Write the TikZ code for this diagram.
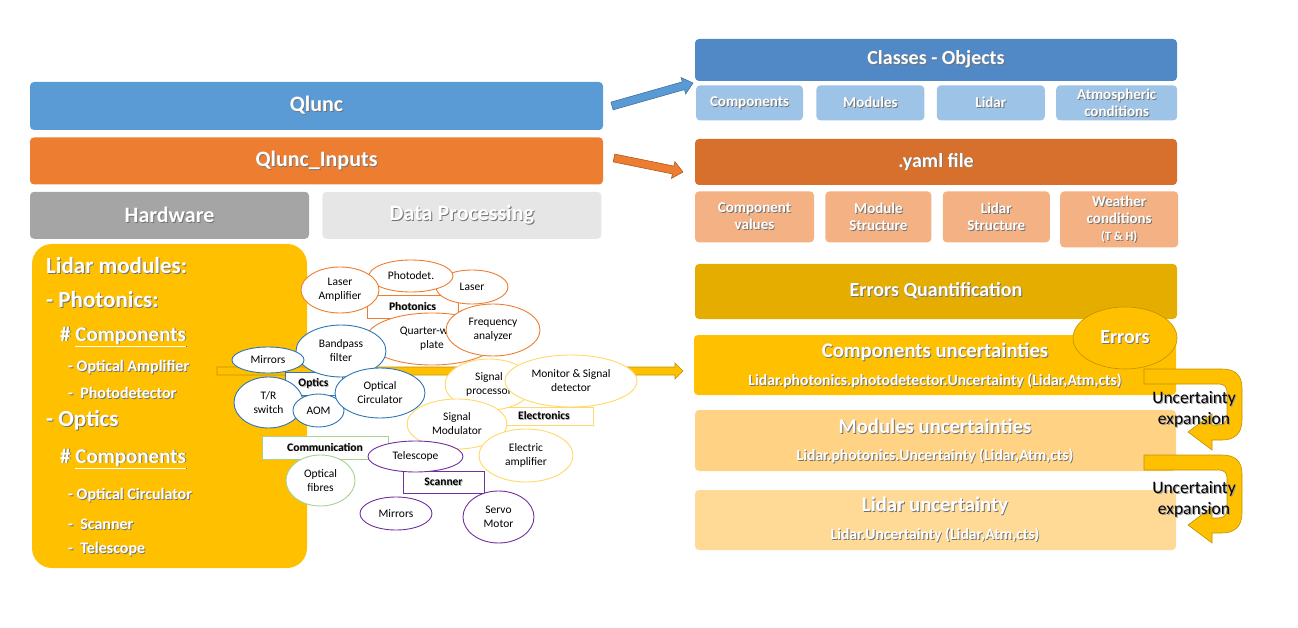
\documentclass[tikz,border=0pt]{standalone}
\usepackage{fontspec}
\setmainfont{Carlito}
\usepackage{tikz}
\usetikzlibrary{positioning,
                calc,                       % points aside a line
                shapes.geometric}           % ellipse nodes

\definecolor{qblue}{HTML}{5B9BD5}
\definecolor{qbluedk}{HTML}{41719C}
\definecolor{qorange}{HTML}{ED7D31}
\definecolor{qorangedk}{HTML}{AE5A21}
\definecolor{hwgrey}{HTML}{A5A5A5}
\definecolor{dpgrey}{HTML}{E7E6E6}
\definecolor{ygold}{HTML}{FFC000}
\definecolor{ydark}{HTML}{BF9000}
\definecolor{cblue}{HTML}{5089C6}
\definecolor{lblue}{HTML}{9DC3E6}
\definecolor{yamlor}{HTML}{D6702C}
\definecolor{lorange}{HTML}{F4B183}
\definecolor{errgold}{HTML}{E5AD00}
\definecolor{modyel}{HTML}{FFD383}
\definecolor{lidyel}{HTML}{FFDA96}
\definecolor{photc}{HTML}{ED7D31}
\definecolor{optc}{HTML}{2E75B6}
\definecolor{elecc}{HTML}{FFD966}
\definecolor{commc}{HTML}{A9D18E}
\definecolor{scanc}{HTML}{7030A0}

% text with a drop shadow
\newcommand{\sh}[1]{\rlap{\hspace*{0.9pt}\raisebox{-0.9pt}{\color{black!55}#1}}#1}
\newcommand{\shg}[1]{\rlap{\hspace*{0.8pt}\raisebox{-0.8pt}{\color{black!30}#1}}#1}
\newcommand{\shk}[1]{\rlap{\hspace*{1.1pt}\raisebox{-1.1pt}{\color{black!40}#1}}#1}

% block arrow: style, from, to, half shaft, half head, head length
\newcommand{\blockarrow}[6]{%
  \path ($(#3)!#6!(#2)$) coordinate (hb);
  \filldraw[#1] ($(#2)!#4!90:(#3)$) -- ($(hb)!#4!-90:(#2)$) -- ($(hb)!#5!-90:(#2)$)
    -- (#3) -- ($(hb)!#5!90:(#2)$) -- ($(hb)!#4!90:(#2)$) -- ($(#2)!#4!-90:(#3)$) -- cycle;}

\tikzset{
  bar/.style={rounded corners=4pt, text=white, inner sep=0pt,
              font=\bfseries\fontsize{22}{26}\selectfont},
  subbox/.style={rounded corners=4pt, text=white, inner sep=0pt, align=center,
              font=\bfseries\fontsize{15}{17}\selectfont},
  lmbig/.style={text=white, anchor=west, inner sep=0pt, font=\bfseries\fontsize{23}{26}\selectfont},
  lmmid/.style={text=white, anchor=west, inner sep=0pt, font=\bfseries\fontsize{21}{24}\selectfont},
  lmsmall/.style={text=white, anchor=west, inner sep=0pt, font=\bfseries\fontsize{16}{18}\selectfont},
  part/.style={ellipse, draw, fill=white, inner sep=0pt, align=center, line width=0.9pt,
              font=\fontsize{11.5}{14}\selectfont},
  grp/.style={draw, fill=white, inner sep=0pt, line width=0.9pt,
              font=\bfseries\fontsize{11.5}{13}\selectfont},
  ttl/.style={text=white, inner sep=0pt, font=\bfseries\fontsize{20.7}{24}\selectfont},
  frm/.style={text=white, inner sep=0pt, font=\bfseries\fontsize{15.6}{18}\selectfont},
  uexp/.style={align=center, inner sep=0pt, font=\fontsize{17.5}{21}\selectfont},
  uarrow/.style={fill=ygold, draw=ydark, line width=0.6pt},
}

\begin{document}
\begin{tikzpicture}[x=1pt, y=-1pt]
  \useasboundingbox (0,0) rectangle (1298,628);

  % left column
  \node[bar, fill=qblue, minimum width=573pt, minimum height=48pt] (qlunc) at (316.5,106) {\sh{Qlunc}};
  \node[bar, fill=qorange, minimum width=573pt, minimum height=47pt, below=7pt of qlunc] (inputs) {\sh{Qlunc\_Inputs}};
  \node[bar, fill=hwgrey, minimum width=279pt, minimum height=47pt, below right=7pt and 0pt of inputs.south west] (hardware) {\sh{Hardware}};
  \node[bar, fill=dpgrey, minimum width=279pt, minimum height=47pt, right=13pt of hardware] (dataproc) {\sh{Data Processing}};

  \node[fill=ygold, rounded corners=20pt, minimum width=275pt, minimum height=324pt, inner sep=0pt] (lidmod) at (169.5,406) {};
  \node[lmbig] (lm1) at (46,266) {\sh{Lidar modules:}};
  \node[lmbig] (lm2) at (46,300) {\sh{- Photonics:}};
  \node[lmmid] (lm3) at (60,337) {\sh{\# \underline{Components}}};
  \node[lmsmall] (lm4) at (68,368) {\sh{- Optical Amplifier}};
  \node[lmsmall] (lm5) at (68,393) {\sh{-\ \ Photodetector}};
  \node[lmbig] (lm6) at (46,421) {\sh{- Optics}};
  \node[lmmid] (lm7) at (60,459) {\sh{\# \underline{Components}}};
  \node[lmsmall] (lm8) at (68,496) {\sh{- Optical Circulator}};
  \node[lmsmall] (lm9) at (68,525) {\sh{-\ \ Scanner}};
  \node[lmsmall] (lm10) at (68,550) {\sh{-\ \ Telescope}};

  % right column
  \node[bar, fill=cblue, font=\bfseries\fontsize{20}{24}\selectfont, minimum width=482pt, minimum height=42pt] (classes) at (936,60) {\sh{Classes - Objects}};
  \node[subbox, fill=lblue, minimum width=107pt, minimum height=35pt, below right=4pt and 1pt of classes.south west] (ccomp) {\sh{Components}};
  \node[subbox, fill=lblue, minimum width=108pt, minimum height=35pt, right=13pt of ccomp] (cmod) {\sh{Modules}};
  \node[subbox, fill=lblue, minimum width=108pt, minimum height=35pt, right=12pt of cmod] (clid) {\sh{Lidar}};
  \node[subbox, fill=lblue, minimum width=121pt, minimum height=35pt, right=11pt of clid] (catm) {\sh{Atmospheric}\\\sh{conditions}};

  \node[bar, fill=yamlor, font=\bfseries\fontsize{20}{24}\selectfont, minimum width=482pt, minimum height=46pt] (yaml) at (936,162) {\sh{.yaml file}};
  \node[subbox, fill=lorange, minimum width=119pt, minimum height=51pt, below right=6pt and 0pt of yaml.south west] (ycomp) {\sh{Component}\\\sh{values}};
  \node[subbox, fill=lorange, minimum width=106pt, minimum height=51pt, right=11pt of ycomp] (ymod) {\sh{Module}\\\sh{Structure}};
  \node[subbox, fill=lorange, minimum width=107pt, minimum height=51pt, right=11pt of ymod] (ylid) {\sh{Lidar}\\\sh{Structure}};
  \node[subbox, fill=lorange, minimum width=118pt, minimum height=56pt, anchor=north west] (yweather) at ([xshift=10pt]ylid.north east)
    {\sh{Weather}\\\sh{conditions}\\{\fontsize{12.5}{14}\selectfont\sh{(T \& H)}}};

  \node[bar, fill=errgold, font=\bfseries\fontsize{20}{24}\selectfont, minimum width=482pt, minimum height=55pt] (errq) at (936,291.5) {\sh{Errors Quantification}};

  \node[fill=ygold, rounded corners=4pt, minimum width=482pt, minimum height=60pt, inner sep=0pt] (compu) at (935,365) {};
  \node[ttl] (compuT) at (935,352) {\sh{Components uncertainties}};
  \node[frm] (compuF) at (935,381) {\sh{Lidar.photonics.photodetector.Uncertainty (Lidar,Atm,cts)}};
  \node[fill=modyel, rounded corners=4pt, minimum width=481pt, minimum height=61pt, inner sep=0pt] (modu) at (935.5,440.5) {};
  \node[ttl] (moduT) at (935,427) {\sh{Modules uncertainties}};
  \node[frm] (moduF) at (935,456) {\sh{Lidar.photonics.Uncertainty (Lidar,Atm,cts)}};
  \node[fill=lidyel, rounded corners=4pt, minimum width=481pt, minimum height=60pt, inner sep=0pt] (lidu) at (935.5,520) {};
  \node[ttl] (liduT) at (935,506) {\sh{Lidar uncertainty}};
  \node[frm] (liduF) at (935,535) {\sh{Lidar.Uncertainty (Lidar,Atm,cts)}};

  \node[ellipse, fill=ygold, draw=ydark, line width=0.6pt, minimum width=104pt, minimum height=62pt, inner sep=0pt,
        text=white, font=\bfseries\fontsize{20}{24}\selectfont] (errors) at (1125,338) {\sh{Errors}};

  % uncertainty expansion u-turns
  \foreach \ty/\hy in {369/432, 455/525}{
    \filldraw[uarrow] (1144,\ty) -- (1222,\ty) .. controls (1236,\ty) and (1242,\ty+7) .. (1242,\ty+19)
      -- (1242,\hy-12) .. controls (1242,\hy+2) and (1234,\hy+8) .. (1222,\hy+8) -- (1212,\hy+8)
      -- (1212,\hy+18) -- (1188,\hy) -- (1212,\hy-18) -- (1212,\hy-7) -- (1218,\hy-7)
      .. controls (1224,\hy-7) and (1227,\hy-10) .. (1227,\hy-16) -- (1227,\ty+23)
      .. controls (1227,\ty+18) and (1224,\ty+15) .. (1219,\ty+15) -- (1144,\ty+15) -- cycle;
  }
  \node[uexp] (uexp1) at (1194,410) {\shk{Uncertainty}\\\shk{expansion}};
  \node[uexp] (uexp2) at (1194,500) {\shk{Uncertainty}\\\shk{expansion}};

  % arrows
  \coordinate (qS) at (612,106);
  \coordinate (qE) at (693,83);
  \blockarrow{fill=qblue, draw=qbluedk, line width=0.6pt}{qS}{qE}{4pt}{8.5pt}{10pt}
  \coordinate (iS) at (614,158);
  \coordinate (iE) at (683,172);
  \blockarrow{fill=qorange, draw=qorangedk, line width=0.6pt}{iS}{iE}{4pt}{8.5pt}{10pt}
  \coordinate (barS) at (217,371);
  \coordinate (barE) at (683,371);
  \blockarrow{fill=ygold, draw=ydark, line width=0.6pt}{barS}{barE}{4pt}{8pt}{8pt}

  % module groups
  \node[grp, draw=photc, minimum width=91pt, minimum height=23pt] (gphot) at (412.5,306.5) {\shg{Photonics}};
  \node[grp, draw=optc, minimum width=57pt, minimum height=23pt] (gopt) at (313.5,383.5) {\shg{Optics}};
  \node[grp, draw=elecc, minimum width=98pt, minimum height=18pt] (gelec) at (544,416) {\shg{Electronics}};
  \node[grp, draw=commc, minimum width=126pt, minimum height=23pt] (gcomm) at (325,447.5) {\shg{Communication}};
  \node[grp, draw=scanc, minimum width=81pt, minimum height=22pt] (gscan) at (443.5,482) {\shg{Scanner}};

  % photonics
  \node[part, draw=photc, minimum width=132pt, minimum height=52pt] (qwp) at (432,339) {Quarter-wave\\plate};
  \node[part, draw=photc, minimum width=72pt, minimum height=34pt] (laser) at (472,287) {Laser};
  \node[part, draw=photc, minimum width=84pt, minimum height=32pt] (pdet) at (411,276) {Photodet.};
  \node[part, draw=photc, minimum width=78pt, minimum height=46pt] (lamp) at (340,290) {Laser\\Amplifier};
  \node[part, draw=photc, minimum width=94pt, minimum height=52pt] (fana) at (493,330) {Frequency\\analyzer};

  % optics
  \node[part, draw=optc, minimum width=90pt, minimum height=52pt] (bpf) at (341,351) {Bandpass\\filter};
  \node[part, draw=optc, minimum width=72pt, minimum height=26pt] (mirr) at (268,360) {Mirrors};
  \node[part, draw=optc, minimum width=69pt, minimum height=51pt] (trsw) at (268.5,402.5) {T/R\\switch};
  \node[part, draw=optc, minimum width=51pt, minimum height=33pt] (aom) at (318.5,410.5) {AOM};
  \node[part, draw=optc, minimum width=90pt, minimum height=50pt] (circ) at (380,393) {Optical\\Circulator};

  % electronics
  \node[part, draw=elecc, minimum width=88pt, minimum height=51pt] (sproc) at (489,384.5) {Signal\\processor};
  \node[part, draw=elecc, minimum width=132pt, minimum height=52pt] (mon) at (571,381) {Monitor \& Signal\\detector};
  \node[part, draw=elecc, minimum width=100pt, minimum height=50pt] (smod) at (457,424) {Signal\\Modulator};
  \node[part, draw=elecc, minimum width=94pt, minimum height=53pt] (eamp) at (526,455.5) {Electric\\amplifier};

  % communication
  \node[part, draw=commc, minimum width=69pt, minimum height=51pt] (fib) at (320.5,480.5) {Optical\\fibres};

  % scanner
  \node[part, draw=scanc, minimum width=95pt, minimum height=31pt] (tel) at (415.5,456.5) {Telescope};
  \node[part, draw=scanc, minimum width=72pt, minimum height=33pt] (smirr) at (396,513.5) {Mirrors};
  \node[part, draw=scanc, minimum width=71pt, minimum height=52pt] (servo) at (498.5,517) {Servo\\Motor};
\end{tikzpicture}
\end{document}
